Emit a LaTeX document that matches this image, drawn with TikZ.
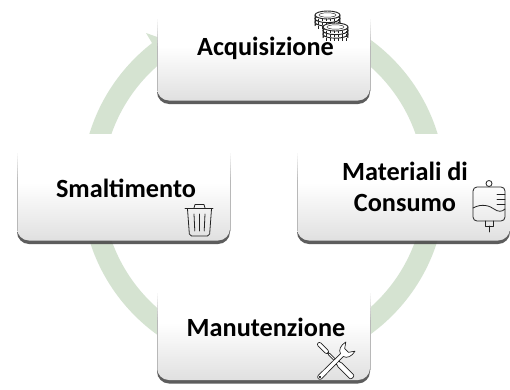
\documentclass[tikz,border=0pt]{standalone}
\usepackage{fontspec}
\setmainfont{Carlito}
\definecolor{ringgreen}{HTML}{D5E3D1}
\definecolor{panelgrey}{HTML}{E0E0E0}
\definecolor{edgegrey}{HTML}{B8B8B8}
\definecolor{iconline}{HTML}{222222}
\pgfdeclareverticalshading{panelshade}{100bp}{color(0bp)=(panelgrey); color(25bp)=(panelgrey); color(52bp)=(white); color(75bp)=(white); color(100bp)=(white)}
\tikzset{
  paneltext/.style={font=\bfseries\fontsize{19.7pt}{23pt}\selectfont,text=black,align=center,inner sep=0pt},
  iconpen/.style={draw=iconline,line width=0.6pt,line join=round,line cap=round},
  toolpen/.style={draw=iconline,line width=0.5pt,line join=round,line cap=round},
  coin/.style={draw=iconline,line width=0.7pt,line join=round,fill=white},
}
\newcommand{\panelbox}[4]{%
  % #1 left, #2 right, #3 top, #4 body bottom
  \fill[black!72,opacity=.88] (#1,#4-30) [rounded corners=9pt] -- (#1,#4+3.5) -- (#2,#4+3.5) [sharp corners] -- (#2,#4-30) -- cycle;
  \path[shading=panelshade] (#1,#3) [rounded corners=9pt] -- (#1,#4) -- (#2,#4) [sharp corners] -- (#2,#3) -- cycle;
  \foreach \s in {0,10,...,90}{
    \fill[edgegrey!\s!white] (#1-.5,#3+16+.3*\s) rectangle (#1+.5,#3+19.2+.3*\s);
    \fill[edgegrey!\s!white] (#2-.5,#3+16+.3*\s) rectangle (#2+.5,#3+19.2+.3*\s);
  }
  \fill[edgegrey] (#1-.5,#3+46) rectangle (#1+.5,#4-10);
  \fill[edgegrey] (#2-.5,#3+46) rectangle (#2+.5,#4-10);
}
\newcommand{\coinstack}[2]{%
  \begin{scope}[shift={(#1,#2)}]
    \foreach \d in {2,1,0}{
      \path[coin] (-12.5,\d*3.6) -- (-12.5,\d*3.6+3.4) arc[start angle=180,end angle=360,x radius=12.5,y radius=4] -- (12.5,\d*3.6) -- cycle;
      \foreach \a in {-9,-5,-1,3,7,10.5}{\draw[iconline,line width=0.4pt] (\a,\d*3.6+3.6) -- (\a,\d*3.6+6.4);}
      \path[coin] (0,\d*3.6) ellipse[x radius=12.5,y radius=4];
    }
    \draw[iconline,line width=0.35pt] (0,0) ellipse[x radius=8.5,y radius=2.2];
  \end{scope}%
}
\begin{document}
\begin{tikzpicture}[x=0.75pt,y=-0.75pt]
\useasboundingbox (0,0) rectangle (510,389);
\fill[white] (0,0) rectangle (510,389);
% ring
\fill[ringgreen,even odd rule] (263.5,187) circle[radius=182] (263.5,187) circle[radius=161];
\fill[ringgreen] (146,33) -- (160,38) -- (170,62) -- (152,43) -- cycle;
% panels
\panelbox{157}{370}{0}{100.5}
\panelbox{17}{230}{134}{240.5}
\panelbox{297}{510}{134}{240.5}
\panelbox{157}{370}{274}{380}
% text
\node[paneltext] (acq) at (265.5,48) {Acquisizione};
\node[paneltext] (mat) at (405,187) {Materiali di\\Consumo};
\node[paneltext] (sma) at (126,188) {Smaltimento};
\node[paneltext] (man) at (266,327) {Manutenzione};
% coins
\coinstack{327.5}{15}
\coinstack{335.5}{27}
% infusion bag
\draw[iconpen,rounded corners=3pt] (473,187) rectangle (505,221);
\draw[iconpen] (489,183.5) circle[radius=3];
\draw[iconpen] (473,208) .. controls (482,203) and (490,206) .. (494,209) .. controls (498,212) and (502,212) .. (505,209);
\foreach \yy in {194,199,204}{\draw[iconpen] (497,\yy) -- (505,\yy);}
\draw[iconpen] (485,221) -- (485,226) -- (493,226) -- (493,221);
\draw[iconpen] (489,226) -- (489,232);
% trash can
\draw[iconpen] (185,208.5) -- (213,208.5);
\draw[iconpen] (194,208) -- (195,204.5) -- (204,204.5) -- (205,208);
\draw[iconpen,rounded corners=1.5pt] (187.5,209) -- (189.5,236) -- (209.5,236) -- (211.5,209);
\foreach \xx/\xb in {194/194.8,199.5/199.5,205/204.2}{\draw[iconpen] (\xx,214) -- (\xb,231);}
% screwdriver
\begin{scope}[shift={(318,343)},rotate=-45]
  \draw[toolpen,fill=white,rounded corners=1.5pt] (0,-2) rectangle (14,2);
  \draw[toolpen,fill=white,rounded corners=1.5pt] (14,-1) -- (27,-1) -- (29,-2.8) -- (49,-2.8) -- (49,2.8) -- (29,2.8) -- (27,1) -- (14,1) -- cycle;
\end{scope}
% wrench
\begin{scope}[shift={(320,377)},rotate=45]
  \draw[toolpen,fill=white] (0,2.4) arc[start angle=90,end angle=270,radius=2.4] -- (31,-2) .. controls (32,-6) and (37,-8) .. (43,-6.5) -- (37.5,-2.6) -- (37.5,2.6) -- (43,6.5) .. controls (37,8) and (32,6) .. (31,2) -- cycle;
  \draw[toolpen] (0,0) circle[radius=1];
\end{scope}
\end{tikzpicture}
\end{document}
